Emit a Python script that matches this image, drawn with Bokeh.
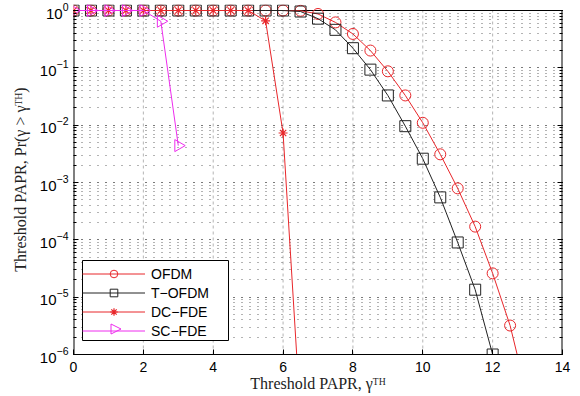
from bokeh.plotting import figure
from bokeh.models import (Range1d, Legend, LegendItem, FixedTicker, PolyAnnotation,
                          BoxAnnotation, LogAxis, CustomJSTickFormatter)
from bokeh.embed import file_html
from bokeh.resources import INLINE
import math

# ---------------- data ----------------
ofdm_x = [0, 0.5, 1, 1.5, 2, 2.5, 3, 3.5, 4, 4.5, 5, 5.5, 6, 6.5,
          7, 7.5, 8, 8.5, 9, 9.5, 10, 10.5, 11, 11.5, 12, 12.5, 13]
ofdm_y = [1, 1, 1, 1, 1, 1, 1, 1, 1, 1, 1, 1, 1, 0.99,
          0.87, 0.62, 0.39, 0.20, 0.087, 0.033, 0.011, 0.0031, 7.9e-4,
          1.7e-4, 2.6e-5, 3.2e-6, 1.8e-7]

tofdm_x = [0, 0.5, 1, 1.5, 2, 2.5, 3, 3.5, 4, 4.5, 5, 5.5, 6, 6.5,
           7, 7.5, 8, 8.5, 9, 9.5, 10, 10.5, 11, 11.5, 12]
tofdm_y = [1, 1, 1, 1, 1, 1, 1, 1, 1, 1, 1, 1, 1, 0.96,
           0.72, 0.46, 0.22, 0.093, 0.033, 0.0096, 0.0026, 5.5e-4,
           9.0e-5, 1.35e-5, 1.0e-6]

dcfde_x = [0, 0.5, 1, 1.5, 2, 2.5, 3, 3.5, 4, 4.5, 5, 5.5, 6, 6.5]
dcfde_y = [1, 1, 1, 1, 1, 1, 1, 1, 1, 1, 1, 0.66, 0.0073, 8e-8]

scfde_x = [0, 0.5, 1, 1.5, 2, 2.5, 3]
scfde_y = [1, 1, 1, 1, 1, 0.65, 0.0044]

x_lim = [0, 14]
y_lim = [1e-6, 1]
x_ticks = [0, 2, 4, 6, 8, 10, 12, 14]

labels = ["OFDM", "T\u2212OFDM", "DC\u2212FDE", "SC\u2212FDE"]
x_label = "Threshold PAPR, \u03b3\u1d40\u1d34"
y_label = "Threshold PAPR, Pr(\u03b3 > \u03b3\u1d40\u1d34)"

# ---------------- layout ----------------
BL, BR, BT, BB = 73, 18, 4, 42
FRAME_W = 489
PLOT_H = 344          # pixels between 10^-6 and 10^0
HEAD = 6              # room above 10^0 so the top row of markers is not cut
FRAME_H = PLOT_H + HEAD
decades = math.log10(y_lim[1]) - math.log10(y_lim[0])
y_top = y_lim[1] * 10 ** (HEAD * decades / PLOT_H)

p = figure(frame_width=FRAME_W, frame_height=FRAME_H,
           output_backend="svg", toolbar_location=None,
           y_axis_type="log",
           x_range=Range1d(*x_lim), y_range=Range1d(y_lim[0], y_top),
           min_border_left=BL, min_border_right=BR, min_border_top=BT,
           min_border_bottom=BB)
p.background_fill_color = "white"
p.border_fill_color = "white"
p.outline_line_color = None

p.xaxis.ticker = FixedTicker(ticks=x_ticks)
p.yaxis.ticker.num_minor_ticks = 10

for ax in (p.xaxis, p.yaxis):
    ax.axis_line_color = "black"
    ax.major_tick_in = 5
    ax.major_tick_out = 0
    ax.major_tick_line_color = "black"
    ax.major_label_text_font = "Liberation Sans"
    ax.major_label_text_color = "black"
    ax.axis_label_text_font = "Liberation Serif"
    ax.axis_label_text_font_size = "16px"
    ax.axis_label_text_font_style = "normal"
    ax.axis_label_text_color = "#222222"
p.xaxis.major_label_text_font_size = "14px"
p.yaxis.major_label_text_font_size = "15px"
p.yaxis.axis_line_color = None
p.xaxis.minor_tick_in = 0
p.xaxis.minor_tick_out = 0
p.yaxis.minor_tick_in = 3
p.yaxis.minor_tick_out = 0
p.yaxis.minor_tick_line_color = "black"
p.xaxis.major_label_standoff = 7
p.yaxis.major_label_standoff = 5
p.xaxis.axis_label_standoff = 0
p.yaxis.axis_label_standoff = 8
p.xaxis.axis_label = x_label
p.yaxis.axis_label = y_label

# right-hand tick marks (box axis), no labels
r_ax = LogAxis(axis_line_color=None, major_tick_in=5, major_tick_out=0,
               minor_tick_in=3, minor_tick_out=0,
               major_tick_line_color="black", minor_tick_line_color="black",
               major_label_standoff=0,
               formatter=CustomJSTickFormatter(code="return ''"))
r_ax.ticker.num_minor_ticks = 10
p.add_layout(r_ax, "right")

# grid
p.xgrid.visible = False
p.segment(x0=x_ticks[1:-1], y0=y_lim[0], x1=x_ticks[1:-1], y1=y_lim[1],
          line_color="#b4b4b4", line_dash="3 3", line_width=1, level="underlay")
p.ygrid.grid_line_color = "#666666"
p.ygrid.grid_line_dash = "1 7"
p.ygrid.minor_grid_line_color = "#666666"
p.ygrid.minor_grid_line_dash = "1 7"

# axes box (left, right, top edges at the axis limits)
p.line([x_lim[0], x_lim[0]], y_lim, line_color="black", line_width=2)
p.line([x_lim[1], x_lim[1]], y_lim, line_color="black", line_width=2)
p.line(x_lim, [y_lim[1], y_lim[1]], line_color="black", line_width=1)

red = "#e8262a"
black = "#222222"
mag = "#ee2cee"

items = []
l1 = p.line(ofdm_x, ofdm_y, line_color=red, line_width=1)
m1 = p.scatter(ofdm_x, ofdm_y, marker="circle", size=11, line_color=red,
               fill_color=None, line_width=1)
items.append(LegendItem(label=labels[0], renderers=[l1, m1]))

l2 = p.line(tofdm_x, tofdm_y, line_color=black, line_width=1)
m2 = p.scatter(tofdm_x, tofdm_y, marker="square", size=11, line_color=black,
               fill_color=None, line_width=1)
items.append(LegendItem(label=labels[1], renderers=[l2, m2]))

l3 = p.line(dcfde_x, dcfde_y, line_color=red, line_width=1)
m3 = p.scatter(dcfde_x, dcfde_y, marker="asterisk", size=9, line_color=red,
               fill_color=None, line_width=1.2)
items.append(LegendItem(label=labels[2], renderers=[l3, m3]))

l4 = p.line(scfde_x, scfde_y, line_color=mag, line_width=1)
m4 = p.scatter(scfde_x, scfde_y, marker="triangle", size=12, angle=-math.pi / 2,
               line_color=mag, fill_color=None, line_width=1)
items.append(LegendItem(label=labels[3], renderers=[l4]))

# legend geometry (screen units, relative to the frame's bottom-left)
LX, LY, LW = 9, 14, 146
PAD, GW, GH, SP = 2, 63, 19, 0
n_items = len(items)
leg_h = 2 * PAD + n_items * GH + (n_items - 1) * SP

# legend box drawn underneath a transparent legend
box = BoxAnnotation(left=LX, right=LX + LW, bottom=LY, top=LY + leg_h,
                    left_units="screen", right_units="screen",
                    bottom_units="screen", top_units="screen",
                    fill_color="white", fill_alpha=1,
                    line_color="black", line_alpha=1, line_width=1)
p.add_layout(box)

# right-pointing triangle key for SC-FDE (legend keys cannot be rotated)
row_y = LY + leg_h - PAD - GH / 2 - (n_items - 1) * (GH + SP)
row_x = LX + PAD + GW / 2
TW, TH = 10, 10
tri = PolyAnnotation(xs=[row_x - TW / 2, row_x - TW / 2, row_x + TW / 2],
                     ys=[row_y - TH / 2, row_y + TH / 2, row_y],
                     xs_units="screen", ys_units="screen",
                     fill_alpha=0, line_color=mag, line_alpha=1, line_width=1)
p.add_layout(tri)

legend = Legend(items=items, location=(LX, LY))
legend.border_line_color = None
legend.background_fill_alpha = 0
legend.label_text_font = "Liberation Sans"
legend.label_text_font_size = "14px"
legend.label_text_color = "black"
legend.glyph_width = GW
legend.glyph_height = GH
legend.label_height = GH
legend.label_standoff = 6
legend.spacing = SP
legend.padding = PAD
legend.margin = 0
p.add_layout(legend, "center")

open("out.html", "w").write(file_html(p, INLINE))
